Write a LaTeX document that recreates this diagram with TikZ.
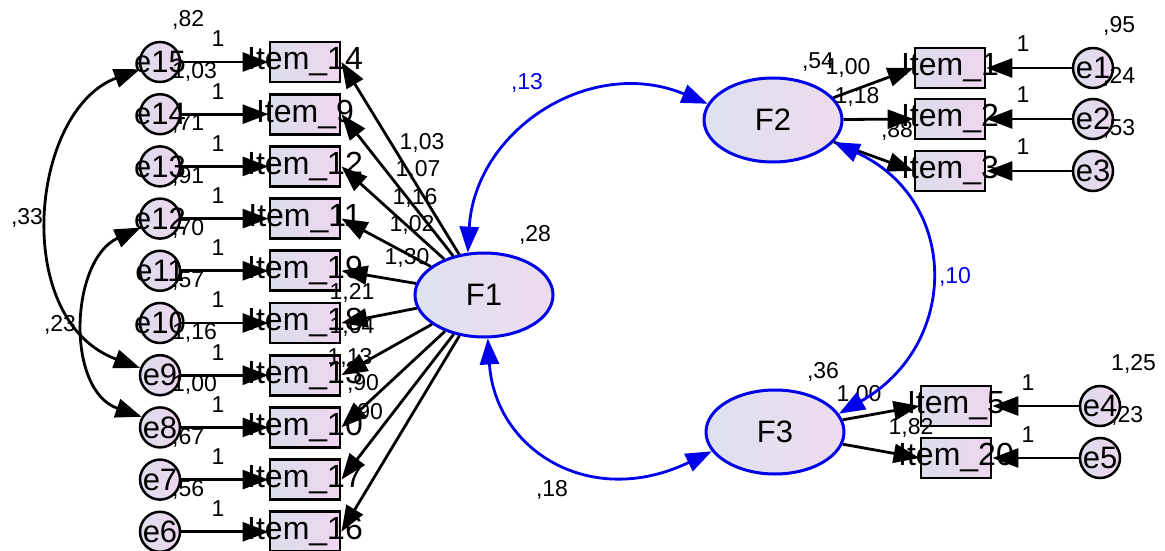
\documentclass[tikz,border=0pt]{standalone}
\usepackage{fontspec}
\setmainfont{Liberation Sans}
\usetikzlibrary{arrows.meta,shapes.geometric}
\definecolor{boxL}{RGB}{220,222,236}
\definecolor{boxR}{RGB}{238,214,238}
\definecolor{latL}{RGB}{222,226,238}
\definecolor{latR}{RGB}{238,218,238}
\definecolor{amosblue}{RGB}{0,0,235}
\tikzset{
  itembox/.style={draw=black, line width=2.8pt, minimum width=70pt, minimum height=40pt, inner sep=0pt, left color=boxL, right color=boxR},
  itemtxt/.style={font=\fontsize{32}{32}\selectfont, inner sep=0pt},
  errc/.style={circle, draw=black, line width=2.5pt, minimum size=40pt, inner sep=0pt, left color=boxL, right color=boxR},
  errtxt/.style={font=\fontsize{31}{31}\selectfont, inner sep=0pt},
  lat/.style={ellipse, draw=amosblue, line width=3pt, minimum width=138pt, minimum height=84pt, inner sep=0pt, left color=latL, right color=latR, font=\fontsize{31}{31}\selectfont},
  num/.style={font=\fontsize{23}{23}\selectfont, inner sep=0pt},
  bnum/.style={num, text=amosblue},
  arr/.style={line width=2.8pt, -{Triangle[length=26pt,width=19pt]}},
  cov/.style={line width=2.8pt, {Triangle[length=26pt,width=19pt]}-{Triangle[length=26pt,width=19pt]}},
  bcov/.style={cov, draw=amosblue},
}
\begin{document}
\begin{tikzpicture}[x=1pt,y=-1pt]
\useasboundingbox (0,0) rectangle (1165,551);

% latent factors
\node[lat] (F1) at (484,295) {F1};
\node[lat] (F2) at (773,120) {F2};
\node[lat] (F3) at (775,432) {F3};

% left block
\foreach \k/\it/\er/\va in {0/14/15/{,82}, 1/9/14/{1,03}, 2/12/13/{,71}, 3/11/12/{,91}, 4/19/11/{,70}, 5/18/10/{,57}, 6/13/9/{1,16}, 7/10/8/{1,00}, 8/17/7/{,67}, 9/16/6/{,56}}{
  \pgfmathsetmacro\yy{62+52.2*\k}
  \node[itembox] (i\it) at (305,\yy) {};
  \node[itemtxt] (ti\it) at (i\it) {Item\_\it};
  \node[errc] (e\er) at (160,\yy) {};
  \node[errtxt] (te\er) at (e\er) {e\er};
  \draw[arr] (e\er) -- (i\it);
  \node[num] (one\er) at (218,\yy-23) {1};
  \node[num,anchor=west] (v\er) at (172,\yy-42) {\va};
}

% loadings of F1
\foreach \it in {14,9,12,11,19,18,13,10,17,16}{
  \draw[arr] (F1) -- (i\it.east);
}
\node[num] (l14) at (422,143) {1,03};
\node[num] (l9)  at (418,170) {1,07};
\node[num] (l12) at (415,198) {1,16};
\node[num] (l11) at (412,225) {1,02};
\node[num] (l19) at (407,258) {1,30};
\node[num] (l18) at (352,293) {1,21};
\node[num] (l13) at (352,327) {1,04};
\node[num] (l10) at (350,358) {1,13};
\node[num] (l17) at (363,384) {,90};
\node[num] (l16) at (367,413) {,90};

% right block F2
\foreach \it/\er/\yy/\va in {1/1/68/{,95}, 2/2/119/{,24}, 3/3/171/{,53}}{
  \node[itembox] (i\it) at (950,\yy) {};
  \node[itemtxt] (ti\it) at (i\it) {Item\_\it};
  \node[errc] (e\er) at (1093,\yy) {};
  \node[errtxt] (te\er) at (e\er) {e\er};
  \draw[arr] (e\er) -- (i\it);
  \node[num] (one\er) at (1023,\yy-24) {1};
  \node[num,anchor=west] (v\er) at (1103,\yy-42) {\va};
  \draw[arr] (F2) -- (i\it.west);
}
% right block F3
\foreach \it/\er/\yy/\va in {5/4/406/{1,25}, 20/5/458/{,23}}{
  \node[itembox] (i\it) at (956,\yy) {};
  \node[itemtxt] (ti\it) at (i\it) {Item\_\it};
  \node[errc] (e\er) at (1100,\yy) {};
  \node[errtxt] (te\er) at (e\er) {e\er};
  \draw[arr] (e\er) -- (i\it);
  \node[num] (one\er) at (1028,\yy-23) {1};
  \node[num,anchor=west] (v\er) at (1111,\yy-42) {\va};
  \draw[arr] (F3) -- (i\it.west);
}
\node[num] (vF2) at (818,62) {,54};
\node[num] (l1) at (848,68) {1,00};
\node[num] (l2) at (857,97) {1,18};
\node[num] (l3) at (897,131) {,88};
\node[num] (vF3) at (823,372) {,36};
\node[num] (l5) at (859,395) {1,00};
\node[num] (l20) at (911,428) {1,82};
\node[num] (vF1) at (535,235) {,28};

% covariances between factors
\draw[bcov] (F1.111) .. controls (475,130) and (590,55) .. (F2.166);
\draw[bcov] (F1.275) .. controls (495,450) and (590,510) .. (F3.197);
\draw[bcov] (F2.340) .. controls (960,200) and (960,345) .. (F3.16);
\node[bnum] (c12) at (527,83) {,13};
\node[bnum] (c23) at (955,277) {,10};
\node[num] (c13) at (552,490) {,18};

% covariances between errors
\draw[cov] (e15.200) .. controls (30,110) and (10,320) .. (e9.160);
\draw[cov] (e12.205) .. controls (70,260) and (65,390) .. (e8.150);
\node[num] (c159) at (27,218) {,33};
\node[num] (c128) at (60,325) {,23};
\end{tikzpicture}
\end{document}
